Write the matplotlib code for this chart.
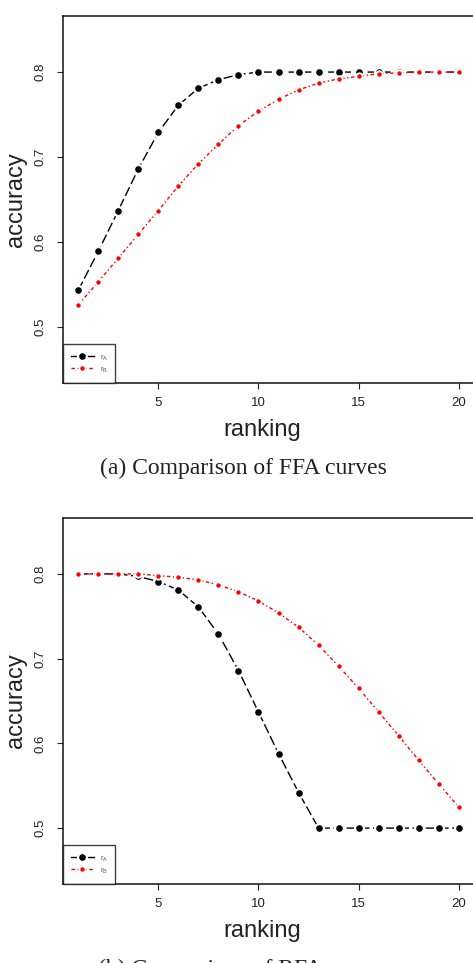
import matplotlib
matplotlib.use("Agg")
import matplotlib.pyplot as plt
import numpy as np

# ranking positions shared by both panels
ranking = list(range(1, 21))

# (a) FFA curves
ffa_rA = [0.543, 0.589, 0.637, 0.686, 0.729, 0.761, 0.781, 0.791, 0.797, 0.800,
          0.800, 0.800, 0.800, 0.800, 0.800, 0.800, 0.800, 0.800, 0.800, 0.800]
ffa_rB = [0.526, 0.553, 0.581, 0.609, 0.637, 0.666, 0.692, 0.715, 0.737, 0.754,
          0.768, 0.779, 0.787, 0.792, 0.795, 0.798, 0.799, 0.800, 0.800, 0.800]

# (b) RFA curves
rfa_rA = [0.800, 0.800, 0.800, 0.797, 0.791, 0.781, 0.761, 0.729, 0.686, 0.637,
          0.588, 0.542, 0.500, 0.500, 0.500, 0.500, 0.500, 0.500, 0.500, 0.500]
rfa_rB = [0.800, 0.800, 0.800, 0.800, 0.798, 0.796, 0.793, 0.787, 0.779, 0.768,
          0.754, 0.737, 0.716, 0.691, 0.665, 0.637, 0.609, 0.580, 0.552, 0.525]

x_ticks = [5, 10, 15, 20]
y_ticks = [0.5, 0.6, 0.7, 0.8]
captions = ["(a) Comparison of FFA curves", "(b) Comparison of RFA curves"]

plt.rcParams['font.family'] = ['Liberation Sans', 'DejaVu Sans']

W, H = 473, 963
fig = plt.figure(figsize=(W / 100, H / 100), dpi=100)


def draw_panel(top_px, bottom_px, y_a, y_b, caption):
    ax = fig.add_axes([63 / W, 1 - bottom_px / H, 411 / W, (bottom_px - top_px) / H])
    ax.plot(ranking, y_a, color='black', lw=1.0, linestyle=(0, (7, 2.5)),
            marker='o', markersize=6.4, markerfacecolor='black',
            markeredgecolor='white', markeredgewidth=1.6, label=r'$\mathregular{r_A}$')
    ax.plot(ranking, y_b, color='red', lw=1.0, linestyle=(0, (2.5, 1.8, 1, 1.8)),
            marker='o', markersize=4.6, markerfacecolor='red',
            markeredgecolor='white', markeredgewidth=1.4, label=r'$\mathregular{r_B}$')

    ax.set_xlim(0.24, 20.76)
    ax.set_ylim(0.434, 0.866)
    ax.set_xticks(x_ticks)
    ax.set_yticks(y_ticks)
    ax.set_xticklabels([str(t) for t in x_ticks])
    ax.set_yticklabels([f'{t:.1f}' for t in y_ticks], rotation=90, va='center')
    ax.tick_params(axis='both', direction='out', length=4.3, width=0.8,
                   labelsize=9.5, labelcolor='#222222', color='#222222')
    ax.tick_params(axis='x', pad=6)
    ax.tick_params(axis='y', pad=7.5)
    for s in ax.spines.values():
        s.set_linewidth(1.1)
        s.set_color('#111111')

    ax.set_xlabel('ranking', fontsize=17, color='#222222', va='center')
    ax.set_ylabel('accuracy', fontsize=17, color='#222222', va='center')
    h = bottom_px - top_px
    ax.xaxis.set_label_coords(0.5 - 6 / 411, -47 / h)
    ax.yaxis.set_label_coords(-47 / 411, 0.5)

    leg = ax.legend(loc='lower left', bbox_to_anchor=(0, 0), borderaxespad=0,
                    fontsize=5.5, frameon=True, fancybox=False, borderpad=1.0,
                    handlelength=3.0, handleheight=1.8, labelspacing=0.15,
                    handletextpad=0.8)
    leg.get_frame().set_edgecolor('#111111')
    leg.get_frame().set_linewidth(1.0)
    leg_lines = leg.get_lines()
    leg_lines[0].set_linestyle('-')
    leg_lines[1].set_linestyle((0, (2.5, 1.8)))
    for t in leg.get_texts():
        t.set_color('#555555')

    fig.text(243 / W, 1 - (bottom_px + 85) / H, caption, ha='center', va='center',
             fontsize=17, family=['Liberation Serif', 'DejaVu Serif'], color='#222222')
    return ax


draw_panel(16, 383, ffa_rA, ffa_rB, captions[0])
draw_panel(518, 884, rfa_rA, rfa_rB, captions[1])

fig.savefig('out.png', dpi=100)
